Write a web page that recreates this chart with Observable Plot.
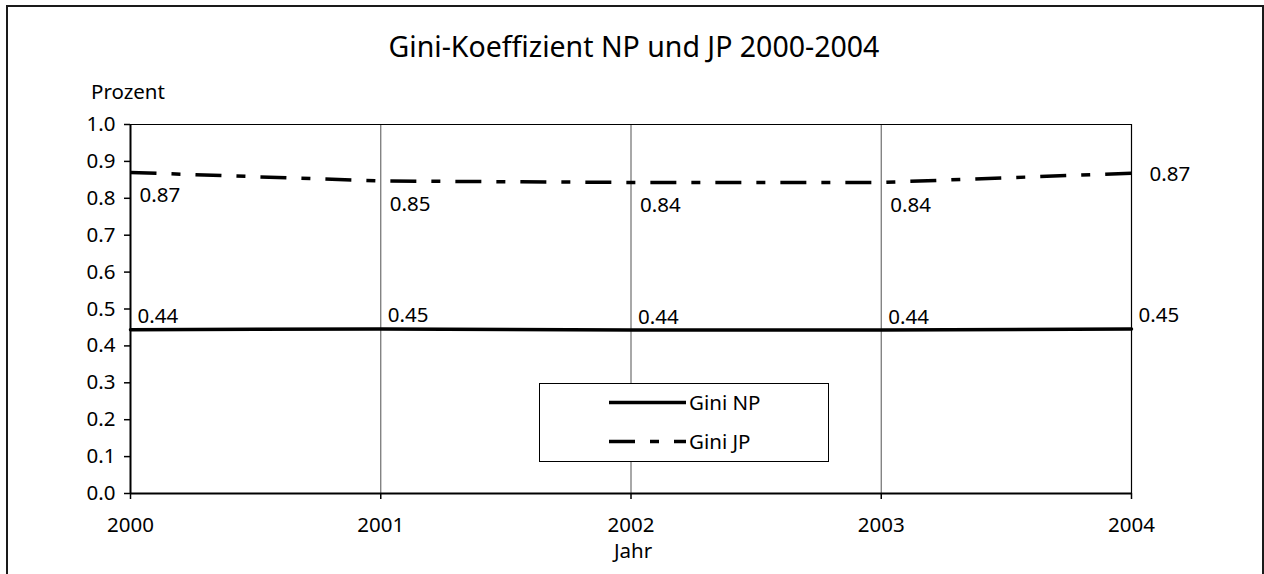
<!DOCTYPE html>
<html>
<head>
<meta charset="utf-8">
<script src="https://cdn.jsdelivr.net/npm/d3@7"></script>
<script src="https://cdn.jsdelivr.net/npm/@observablehq/plot@0.6"></script>
<style>
  html, body { margin: 0; padding: 0; background: #fff; }
  #wrap { position: relative; width: 1264px; height: 574px; overflow: hidden; font-family: 'Noto Sans', sans-serif; color: #000; }
  #border { position: absolute; left: 6px; top: 5px; width: 1254px; height: 620px; border: 2px solid #1a1a1a; }
  #chart { position: absolute; left: 0; top: 0; }
  .t { position: absolute; white-space: nowrap; line-height: 1; }
  #title { left: 0; width: 1268px; text-align: center; top: 32px; font-size: 28.5px; }
  #ylab { left: 91px; top: 81px; font-size: 20.5px; }
  #xlab { left: 0; width: 1266px; text-align: center; top: 540px; font-size: 20.5px; }
  #legend { position: absolute; left: 539px; top: 383px; width: 288px; height: 77px; border: 1px solid #000; background: #fff; }
  #legend svg { position: absolute; left: 0; top: 0; }
</style>
</head>
<body>
<div id="wrap">
  <div id="border"></div>
  <div id="chart"></div>
  <div id="title" class="t"></div>
  <div id="ylab" class="t"></div>
  <div id="xlab" class="t"></div>
  <div id="legend"></div>
</div>
<script>
// ---- data ----
const years = [2000, 2001, 2002, 2003, 2004];
const giniNP = [0.444, 0.446, 0.443, 0.443, 0.446];
const giniJP = [0.870, 0.847, 0.843, 0.843, 0.868];
const seriesNames = ["Gini NP", "Gini JP"];
const yTicks = [0, 0.1, 0.2, 0.3, 0.4, 0.5, 0.6, 0.7, 0.8, 0.9, 1.0];
const titleText = "Gini-Koeffizient NP und JP 2000-2004";
const yLabel = "Prozent";
const xLabel = "Jahr";

const dash = "26,15,9,15";
const fmt = d3.format(".2f");

const np = years.map((y, i) => ({year: y, v: giniNP[i], s: seriesNames[0]}));
const jp = years.map((y, i) => ({year: y, v: giniJP[i], s: seriesNames[1]}));
const lastYear = years[years.length - 1];

const chart = Plot.plot({
  width: 1264,
  height: 574,
  marginLeft: 130,
  marginRight: 133,
  marginTop: 124,
  marginBottom: 81,
  style: {fontFamily: "'Noto Sans', sans-serif", fontSize: "20.5px", background: "transparent", color: "#000", overflow: "visible"},
  x: {type: "linear", domain: [years[0], lastYear]},
  y: {domain: [0, 1]},
  marks: [
    Plot.ruleX(years.slice(1, -1), {stroke: "#6e6e6e", strokeWidth: 1.2}),
    Plot.ruleX([lastYear], {stroke: "#000", strokeWidth: 1.2}),
    Plot.ruleY([1], {stroke: "#000", strokeWidth: 1.2}),
    Plot.axisY({ticks: yTicks, tickFormat: ".1f", tickSize: 6, tickPadding: 9, label: null, strokeWidth: 1.5, fill: "#000"}),
    Plot.axisX({ticks: years, tickFormat: d => String(d), tickSize: 6, tickPadding: 18, label: null, strokeWidth: 1.5, fill: "#000"}),
    Plot.ruleX([years[0]], {stroke: "#000", strokeWidth: 2}),
    Plot.ruleY([0], {stroke: "#000", strokeWidth: 2}),
    Plot.line(np, {x: "year", y: "v", stroke: "#000", strokeWidth: 3.5}),
    Plot.line(jp, {x: "year", y: "v", stroke: "#000", strokeWidth: 3.5, strokeDasharray: dash, strokeLinecap: "butt"}),
    Plot.text(np, {x: "year", y: "v", text: d => fmt(d.v), textAnchor: "start", dx: 7, dy: -13, fill: "#000"}),
    Plot.text(jp.filter(d => d.year !== lastYear), {x: "year", y: "v", text: d => fmt(d.v), textAnchor: "start", dx: 9, dy: 23, fill: "#000"}),
    Plot.text(jp.filter(d => d.year === lastYear), {x: "year", y: "v", text: d => fmt(d.v), textAnchor: "start", dx: 18, dy: 1, fill: "#000"})
  ]
});
document.getElementById("chart").appendChild(chart);

document.getElementById("title").textContent = titleText;
document.getElementById("ylab").textContent = yLabel;
document.getElementById("xlab").textContent = xLabel;

// legend
const lg = d3.select("#legend").append("svg").attr("width", 288).attr("height", 77);
const rows = [{name: seriesNames[0], dash: null, y: 18.5}, {name: seriesNames[1], dash: dash, y: 57.5}];
rows.forEach(r => {
  lg.append("line").attr("x1", 69).attr("x2", 146).attr("y1", r.y).attr("y2", r.y)
    .attr("stroke", "#000").attr("stroke-width", 3.5).attr("stroke-dasharray", r.dash);
  lg.append("text").attr("x", 149).attr("y", r.y).attr("dy", "0.35em")
    .attr("font-family", "'Noto Sans', sans-serif").attr("font-size", "20.5px").text(r.name);
});
</script>
</body>
</html>
